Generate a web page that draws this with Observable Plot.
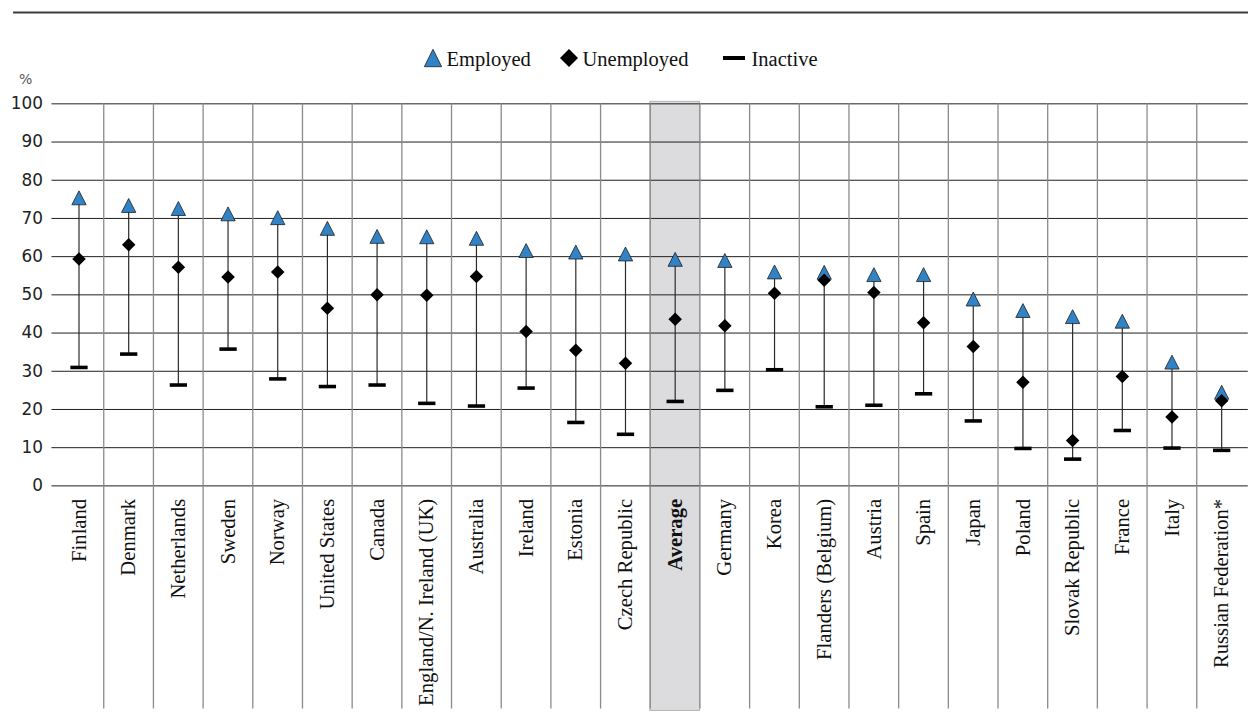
<!DOCTYPE html>
<html>
<head>
<meta charset="utf-8">
<script src="https://cdn.jsdelivr.net/npm/d3@7"></script>
<script src="https://cdn.jsdelivr.net/npm/@observablehq/plot@0.6"></script>
<style>
  html, body { margin: 0; padding: 0; background: #fff; }
  body { width: 1248px; height: 713px; overflow: hidden; position: relative; }
  #chart { position: absolute; left: 0; top: 0; }
  #deco { position: absolute; left: 0; top: 0; }
</style>
</head>
<body>
<svg id="deco" width="1248" height="100" font-family="Liberation Serif">
  <line x1="13" x2="1248" y1="12.5" y2="12.5" stroke="#3c3c3c" stroke-width="2.2"/>
  <path d="M433,49.3 L441.7,66.7 L424.3,66.7 Z" fill="#3183c6" stroke="#1e1e1e" stroke-width="0.8"/>
  <text x="446.5" y="66" font-size="20.5" fill="#111">Employed</text>
  <path d="M569,49 L578,58 L569,67 L560,58 Z" fill="#000"/>
  <text x="582.5" y="66" font-size="20.5" fill="#111">Unemployed</text>
  <rect x="723" y="56" width="22" height="4" fill="#000"/>
  <text x="751.5" y="66" font-size="20.5" fill="#111">Inactive</text>
  <text x="19" y="84" font-size="14" font-family="DejaVu Sans" fill="#555">%</text>
</svg>
<div id="chart"></div>
<script>
const countries = ["Finland","Denmark","Netherlands","Sweden","Norway","United States","Canada","England/N. Ireland (UK)","Australia","Ireland","Estonia","Czech Republic","Average","Germany","Korea","Flanders (Belgium)","Austria","Spain","Japan","Poland","Slovak Republic","France","Italy","Russian Federation*"];
const employed   = [75.4,73.4,72.6,71.2,70.2,67.4,65.3,65.2,64.8,61.6,61.2,60.7,59.3,59.0,56.0,55.9,55.3,55.3,48.9,45.9,44.3,43.1,32.4,24.5];
const unemployed = [59.4,63.1,57.2,54.7,56.0,46.5,50.0,49.9,54.8,40.4,35.5,32.1,43.6,41.9,50.4,53.8,50.6,42.7,36.5,27.1,11.9,28.6,18.0,22.3];
const inactive   = [31.0,34.5,26.4,35.8,28.0,26.0,26.4,21.6,20.9,25.6,16.6,13.5,22.1,25.0,30.4,20.7,21.1,24.1,17.0,9.8,7.0,14.5,9.9,9.3];
const yTicks = [0,10,20,30,40,50,60,70,80,90,100];
const highlight = "Average";

const rows = countries.map((c, i) => ({country: c, employed: employed[i], unemployed: unemployed[i], inactive: inactive[i]}));

const W = 1256, H = 713, ML = 51.8, MR = 0.2, MT = 104;
const bw = (W - ML - MR) / countries.length;

const triSym = {draw(ctx) { ctx.moveTo(0, -7); ctx.lineTo(7.2, 7); ctx.lineTo(-7.2, 7); ctx.closePath(); }};
const diaSym = {draw(ctx) { ctx.moveTo(0, -6.8); ctx.lineTo(6.8, 0); ctx.lineTo(0, 6.8); ctx.lineTo(-6.8, 0); ctx.closePath(); }};
const dashSym = {draw(ctx) { ctx.rect(-8.7, -1.8, 17.4, 3.6); }};

const chart = Plot.plot({
  width: W,
  height: H,
  marginLeft: ML,
  marginRight: MR,
  marginTop: MT,
  marginBottom: 0,
  style: {fontFamily: "Liberation Serif", overflow: "visible", background: "transparent"},
  x: {domain: countries, padding: 0, axis: null},
  y: {domain: [0, 100], range: [488.5, 104], axis: null},
  marks: [
    Plot.cell([highlight], {x: d => d, fill: "#dcdcde", stroke: "#b4b4b4", strokeWidth: 1, insetTop: -2, insetBottom: -2}),
    Plot.ruleY(yTicks, {stroke: "#1e1e1e", strokeWidth: 1}),
    Plot.ruleX(countries.slice(1), {x: d => d, dx: -bw / 2, stroke: "#8a8a8a", strokeWidth: 1.3}),
    Plot.axisY({ticks: yTicks, tickSize: 0, tickPadding: 9, fontSize: 17, fontFamily: "DejaVu Sans", color: "#222", label: null}),
    Plot.ruleX(rows, {x: "country", y1: "inactive", y2: "employed", stroke: "#2a2a2a", strokeWidth: 1.2}),
    Plot.dot(rows, {x: "country", y: "employed", symbol: triSym, fill: "#3183c6", stroke: "#1e1e1e", strokeWidth: 0.8}),
    Plot.dot(rows, {x: "country", y: "unemployed", symbol: diaSym, fill: "#000", stroke: "none"}),
    Plot.dot(rows, {x: "country", y: "inactive", symbol: dashSym, fill: "#000", stroke: "none"}),
    Plot.text(rows.filter(d => d.country !== highlight), {x: "country", y: () => 0, text: "country", rotate: -90, textAnchor: "end", lineAnchor: "middle", dy: 13, fontSize: 20.8, fontFamily: "Liberation Serif", fill: "#111"}),
    Plot.text(rows.filter(d => d.country === highlight), {x: "country", y: () => 0, text: "country", rotate: -90, textAnchor: "end", lineAnchor: "middle", dy: 13, fontSize: 20.8, fontWeight: "bold", fontFamily: "Liberation Serif", fill: "#111"})
  ]
});
document.getElementById("chart").appendChild(chart);
</script>
</body>
</html>
